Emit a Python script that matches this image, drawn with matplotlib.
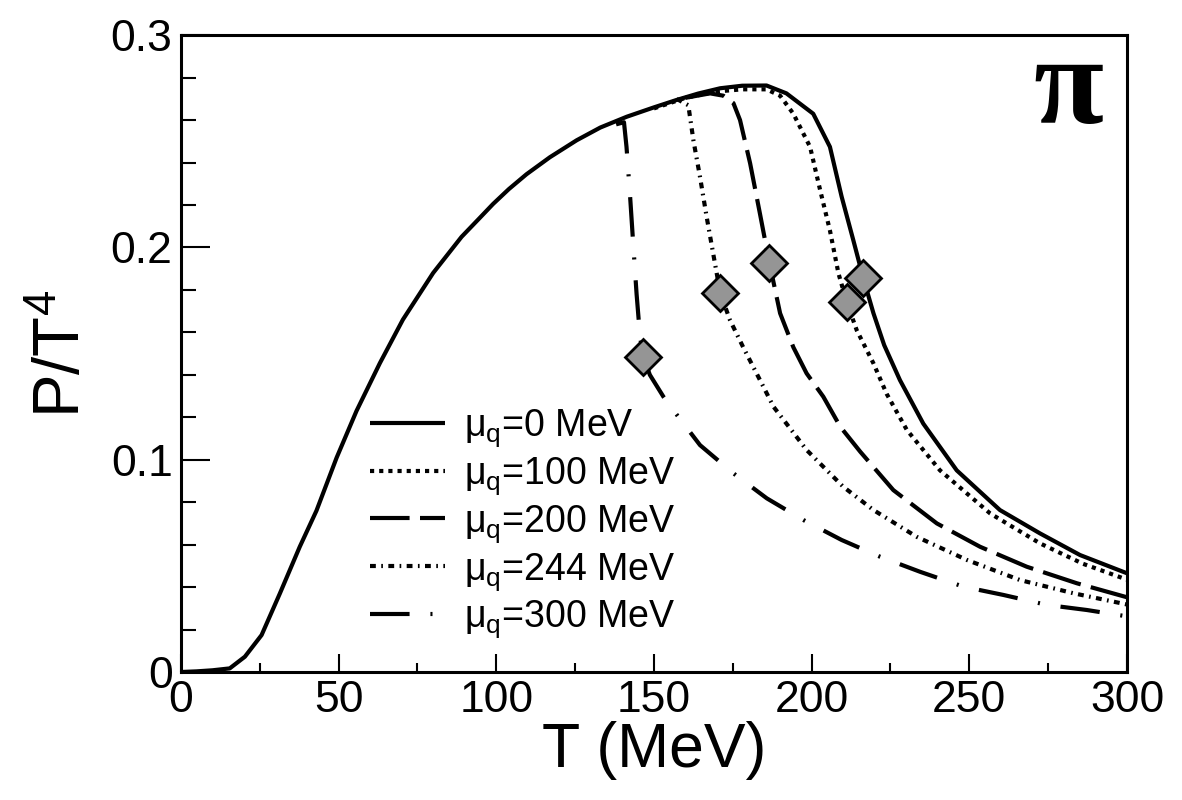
import matplotlib
matplotlib.use("Agg")
import matplotlib.pyplot as plt
from matplotlib.ticker import MultipleLocator, FormatStrFormatter

# ---------------- données ----------------
# mu_q = 0 MeV
T_0 = [0, 5, 10, 15.5, 20.3, 25.6, 31.4, 37.7, 43, 49.4, 55.7, 63.1, 70.4, 80, 89, 94.5,
       99, 104, 109.6, 117, 125.5, 133, 141.4, 150, 157.2, 164, 171, 178, 185.7, 192,
       200.5, 205.8, 209.5, 213.2, 216.4, 219.6, 223, 228, 235.4, 246, 259.7, 272.4,
       285.1, 300]
P_0 = [0, 0.0003, 0.0008, 0.0017, 0.0072, 0.0174, 0.037, 0.059, 0.076, 0.101, 0.123,
       0.1455, 0.166, 0.188, 0.205, 0.2135, 0.2205, 0.2275, 0.2345, 0.2425, 0.2505, 0.2565,
       0.2616, 0.2660, 0.2695, 0.2725, 0.2750, 0.2762, 0.2763, 0.2726, 0.263, 0.2474,
       0.224, 0.2035, 0.1854, 0.169, 0.154, 0.1375, 0.117, 0.095, 0.0763, 0.0653, 0.0551,
       0.0465]

# mu_q = 100 MeV
T_100 = [150, 160, 170, 178, 185.7, 190, 194.2, 199.5, 202.7, 205.8, 208.5, 211.1, 214.3,
         219.6, 223.8, 230.2, 240.7, 256.6, 272.4, 286, 300]
P_100 = [0.2655, 0.2705, 0.2735, 0.2745, 0.2745, 0.2715, 0.263, 0.2474, 0.227, 0.208,
         0.1878, 0.1744, 0.161, 0.1454, 0.131, 0.114, 0.095, 0.0747, 0.0606, 0.051, 0.0435]

# mu_q = 200 MeV
T_200 = [160, 167.8, 172, 175.2, 177.3, 180.5, 183.6, 186.6, 190, 194.2, 198.4, 203.7,
         209.1, 215.4, 225.9, 239.7, 253.4, 268.2, 284.1, 300]
P_200 = [0.2705, 0.2726, 0.2715, 0.268, 0.26, 0.2396, 0.216, 0.1928, 0.169, 0.153, 0.1407,
         0.1297, 0.1155, 0.1038, 0.0857, 0.070, 0.059, 0.0496, 0.0418, 0.0352]

# mu_q = 244 MeV
T_244 = [157.2, 160.9, 162.5, 164.6, 166.7, 168.8, 171, 174.1, 178.3, 184.7, 187.9, 198.4,
         210, 219.6, 233.3, 249.2, 266.1, 283, 300]
P_244 = [0.270, 0.267, 0.2506, 0.2333, 0.2145, 0.197, 0.1787, 0.1658, 0.153, 0.1344, 0.125,
         0.1046, 0.0873, 0.0763, 0.0637, 0.0528, 0.0433, 0.0371, 0.0318]

# mu_q = 300 MeV
T_300 = [138, 140.5, 141.3, 142.4, 143.5, 144.5, 145.6, 146.6, 148.7, 153, 156.1, 164.6,
         175.2, 185.8, 197.4, 209.5, 221.7, 234.4, 248.1, 260.8, 274.6, 287.3, 300]
P_300 = [0.258, 0.259, 0.2474, 0.225, 0.2, 0.178, 0.158, 0.1485, 0.14, 0.1297, 0.1234,
         0.1069, 0.0936, 0.0818, 0.0716, 0.0622, 0.0543, 0.0472, 0.0402, 0.0363, 0.0316,
         0.0292, 0.0262]

# losanges
T_diam = [216.4, 211.1, 186.6, 171, 146.6]
P_diam = [0.1854, 0.1744, 0.1928, 0.1787, 0.1485]

labels = ["μ$_{q}$=0 MeV", "μ$_{q}$=100 MeV", "μ$_{q}$=200 MeV",
          "μ$_{q}$=244 MeV", "μ$_{q}$=300 MeV"]

# ---------------- style ----------------
plt.rcParams['font.family'] = ['Liberation Sans', 'DejaVu Sans']
plt.rcParams['mathtext.default'] = 'regular'

fig = plt.figure(figsize=(11.82, 8), dpi=100)
ax = fig.add_axes([0.153, 0.16, 0.8005, 0.796])

lw = 3
series = [(T_0, P_0, (0, ())),
          (T_100, P_100, (0, (1, 1.2))),
          (T_200, P_200, (0, (9.5, 2.5))),
          (T_244, P_244, (0, (1.4, 1.3, 0.4, 1.3))),
          (T_300, P_300, (0, (9.5, 5, 0.5, 5)))]

for (t, p, ls), lab in zip(series, labels):
    ax.plot(t, p, color='black', lw=lw, linestyle=ls, label=lab,
            solid_capstyle='butt', dash_capstyle='butt')

ax.plot(T_diam, P_diam, linestyle='none', marker='D', markersize=18,
        markerfacecolor='#959595', markeredgecolor='black', markeredgewidth=2)

ax.set_xlim(0, 300)
ax.set_ylim(0, 0.3)
ax.xaxis.set_major_locator(MultipleLocator(50))
ax.xaxis.set_minor_locator(MultipleLocator(25))
ax.yaxis.set_major_locator(MultipleLocator(0.1))
ax.yaxis.set_minor_locator(MultipleLocator(0.02))
ax.yaxis.set_major_formatter(FormatStrFormatter('%g'))

ax.tick_params(axis='x', which='major', direction='in', length=13, width=1.5,
               labelsize=32, pad=6)
ax.tick_params(axis='x', which='minor', direction='in', length=6.5, width=1.5)
ax.tick_params(axis='y', which='major', direction='in', length=21, width=1.5,
               labelsize=32, pad=6)
ax.tick_params(axis='y', which='minor', direction='in', length=10.5, width=1.5)
for s in ax.spines.values():
    s.set_linewidth(2.2)

ax.set_xlabel("T (MeV)", fontsize=45, labelpad=0)
ax.set_ylabel("P/T$^{4}$", fontsize=47, labelpad=12)

ax.text(0.975, 1.0, "π", transform=ax.transAxes, ha='right', va='top',
        fontsize=92, fontweight='bold', family=['Liberation Serif', 'DejaVu Serif'])

ax.legend(loc='upper left', bbox_to_anchor=(0.2, 0.415), frameon=False, fontsize=27,
          handlelength=2.0, handletextpad=0.5, labelspacing=0.16, borderpad=0,
          borderaxespad=0)

fig.savefig("out.png", dpi=100)
